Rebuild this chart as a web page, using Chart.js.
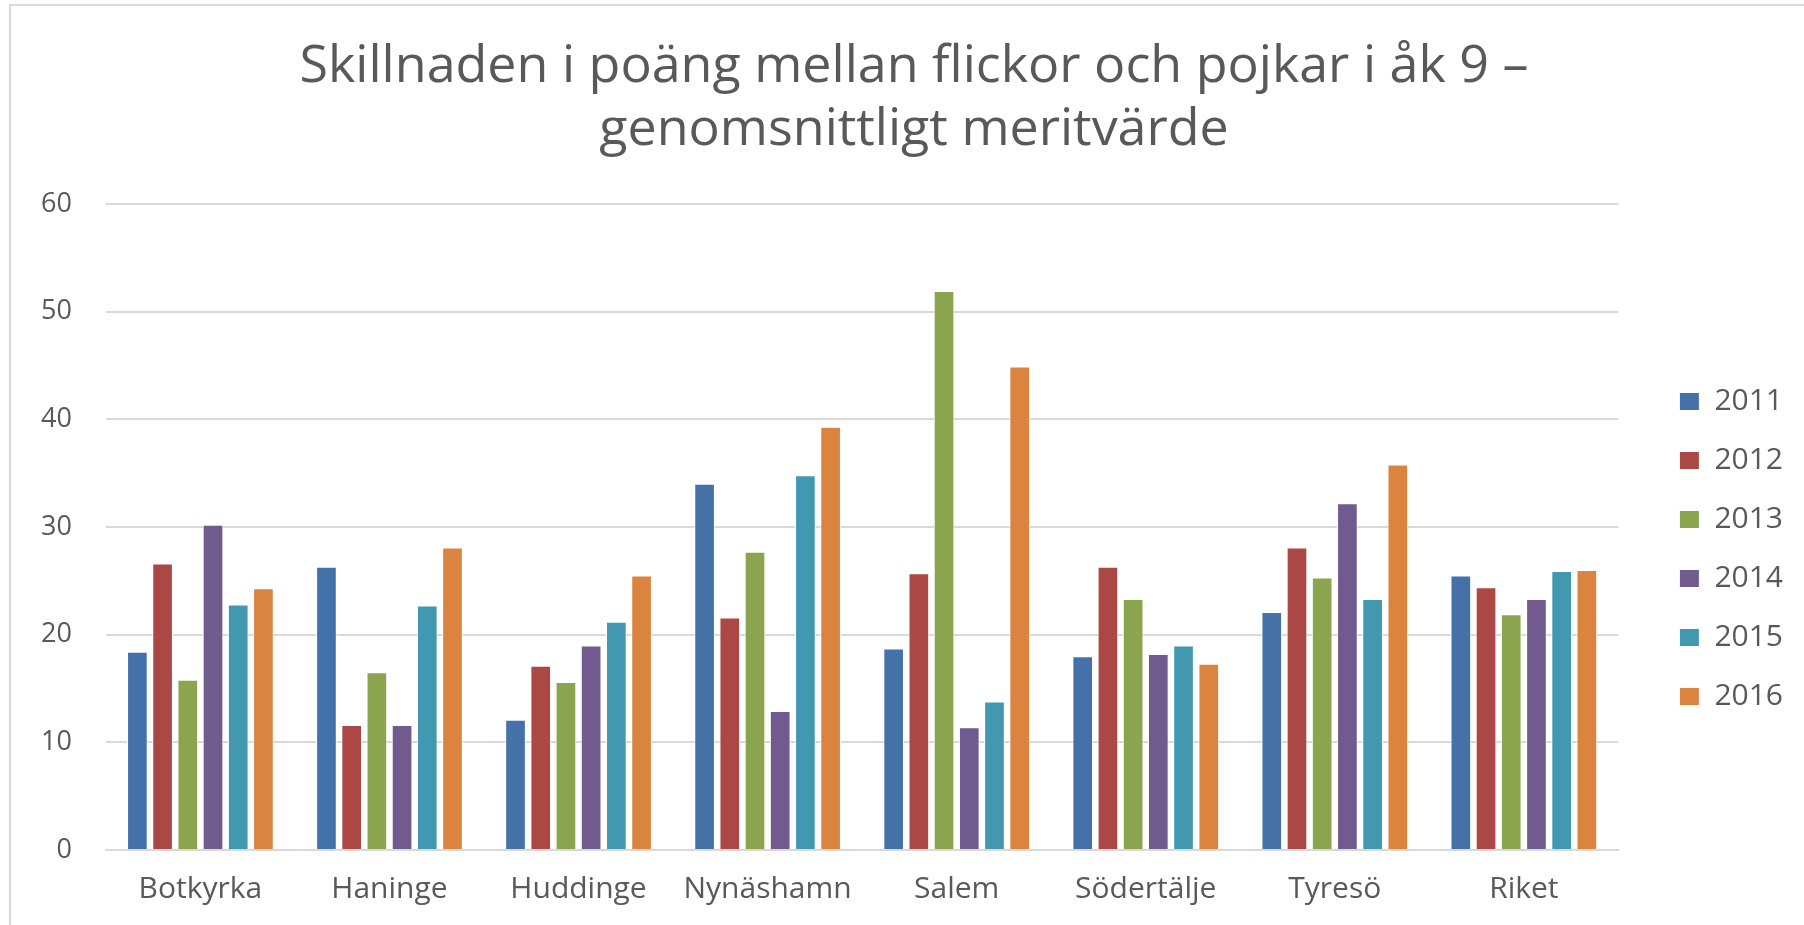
<!DOCTYPE html>
<html>
<head>
<meta charset="utf-8">
<script src="https://cdn.jsdelivr.net/npm/chart.js@4"></script>
<style>
  html, body { margin: 0; padding: 0; background: #fff; }
  #wrap { position: absolute; left: 0; top: 0; width: 1804px; height: 925px; }
  #frame { position: absolute; left: 9px; top: 4px; width: 1820px; height: 940px; border: 2px solid #d9d9d9; box-sizing: border-box; pointer-events: none; }
</style>
</head>
<body>
<div id="wrap"><canvas id="myChart" width="1804" height="925"></canvas></div>
<div id="frame"></div>
<script>
const categories = ['Botkyrka', 'Haninge', 'Huddinge', 'Nynäshamn', 'Salem', 'Södertälje', 'Tyresö', 'Riket'];
const years = ['2011', '2012', '2013', '2014', '2015', '2016'];

const v2011 = [18.4, 26.3, 12.1, 34.0, 18.7, 18.0, 22.1, 25.5];
const v2012 = [26.6, 11.6, 17.1, 21.6, 25.7, 26.3, 28.1, 24.4];
const v2013 = [15.8, 16.5, 15.6, 27.7, 51.9, 23.3, 25.3, 21.9];
const v2014 = [30.2, 11.6, 19.0, 12.9, 11.4, 18.2, 32.2, 23.3];
const v2015 = [22.8, 22.7, 21.2, 34.8, 13.8, 19.0, 23.3, 25.9];
const v2016 = [24.3, 28.1, 25.5, 39.3, 44.9, 17.3, 35.8, 26.0];

const yTicks = [0, 10, 20, 30, 40, 50, 60];

const colors = ['#4472a8', '#ab4745', '#8aa54e', '#715a8e', '#4298b0', '#db843f'];
const textColor = '#595959';
const font = "'Open Sans', sans-serif";

const series = [v2011, v2012, v2013, v2014, v2015, v2016];

// nudge title and legend to where Excel put them
const shiftBoxes = {
  id: 'shiftBoxes',
  afterLayout(chart) {
    const t = chart.titleBlock;
    t.left += 30; t.right += 30;
    const l = chart.legend;
    l.left += 32; l.right += 32;
    l.top += 89; l.bottom += 89;
  },
};

const ctx = document.getElementById('myChart').getContext('2d');
new Chart(ctx, {
  type: 'bar',
  data: {
    labels: categories,
    datasets: series.map((vals, i) => ({
      label: years[i],
      data: vals,
      backgroundColor: colors[i],
      borderColor: '#ffffff',
      borderWidth: 1,
      categoryPercentage: 0.8,
      barPercentage: 0.82,
    })),
  },
  plugins: [shiftBoxes],
  options: {
    responsive: false,
    animation: false,
    layout: { padding: { left: 7, right: 43, top: 0, bottom: 5 } },
    plugins: {
      title: {
        display: true,
        text: ['Skillnaden i poäng mellan flickor och pojkar i åk 9 –', 'genomsnittligt meritvärde'],
        color: textColor,
        font: { family: font, size: 52, weight: 'normal', lineHeight: 1.21 },
        padding: { top: 36, bottom: 42 },
      },
      legend: {
        position: 'right',
        labels: {
          color: textColor,
          font: { family: font, size: 30 },
          boxWidth: 20,
          boxHeight: 18,
          padding: 29,
        },
      },
      tooltip: { enabled: false },
    },
    scales: {
      x: {
        grid: { display: false },
        border: { color: '#d9d9d9', width: 2 },
        ticks: { color: textColor, font: { family: font, size: 30 }, padding: 13, maxRotation: 0 },
      },
      y: {
        min: 0,
        max: 60,
        afterBuildTicks: (axis) => { axis.ticks = yTicks.map(v => ({ value: v })); },
        grid: { color: '#d9d9d9', lineWidth: 2, drawTicks: false },
        border: { display: false },
        ticks: { color: textColor, font: { family: font, size: 27 }, padding: 34 },
      },
    },
  },
});
</script>
</body>
</html>
